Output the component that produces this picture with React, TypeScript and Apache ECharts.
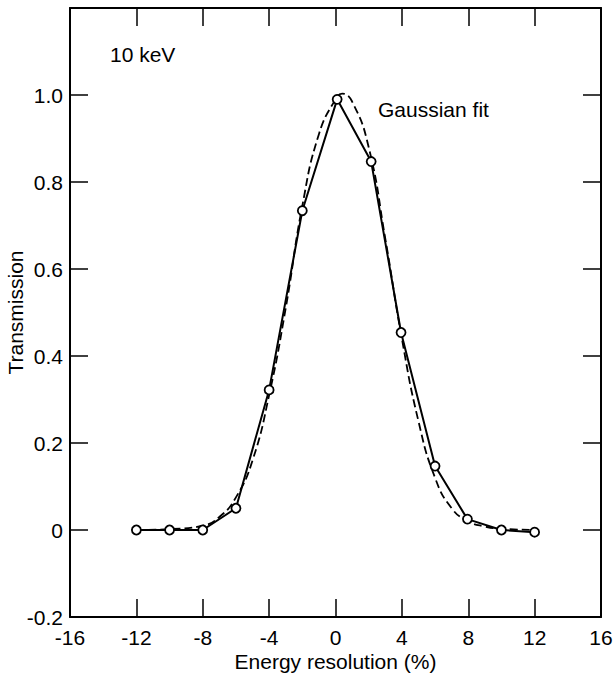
import * as echarts from "echarts";
import React, { useEffect, useRef } from "react";

// measured points (energy resolution %, transmission)
const energy = [-12, -10, -8, -6, -4, -2, 0.1, 2.15, 3.95, 6, 7.95, 10, 12];
const transmission = [0, 0, 0, 0.05, 0.322, 0.734, 0.99, 0.847, 0.454, 0.147, 0.025, 0, -0.005];

// dashed Gaussian fit
const fitEnergy = [-12, -10, -8, -7, -6, -5, -4, -3, -2, -1, 0, 0.4, 1, 2, 3, 4, 5, 6, 7, 8, 9, 10, 12];
const fitValue = [0, 0.002, 0.01, 0.03, 0.075, 0.16, 0.31, 0.51, 0.745, 0.91, 0.99, 1.003, 0.985, 0.88, 0.67, 0.44, 0.25, 0.12, 0.05, 0.02, 0.008, 0.003, 0];

const FONT = "'Liberation Sans', Arial, sans-serif";

const Chart: React.FC = () => {
  const chartRef = useRef<HTMLDivElement | null>(null);

  useEffect(() => {
    document.body.style.margin = "0";
    if (!chartRef.current) return;
    const chart = echarts.init(chartRef.current, undefined, { renderer: "svg" });

    const axisLine = { show: true, onZero: false, lineStyle: { color: "#000", width: 2 } };
    const tick = { show: true, inside: true, length: 18, lineStyle: { color: "#000", width: 1.5 } };
    const label = { color: "#000", fontSize: 21, fontFamily: FONT };

    const option: echarts.EChartsOption = {
      animation: false,
      backgroundColor: "#fff",
      grid: { left: 70, right: 12, top: 8, bottom: 58, outerBoundsMode: "none" } as any,
      xAxis: [
        {
          type: "value",
          min: -16,
          max: 16,
          interval: 4,
          axisLine,
          axisTick: tick,
          splitLine: { show: false },
          axisLabel: { ...label, margin: 10 },
          name: "Energy resolution (%)",
          nameLocation: "middle",
          nameGap: 34,
          nameMoveOverlap: false,
          nameTextStyle: { ...label },
        } as any,
        {
          type: "value",
          position: "top",
          min: -16,
          max: 16,
          interval: 4,
          axisLine,
          axisTick: tick,
          splitLine: { show: false },
          axisLabel: { show: false },
        },
      ],
      yAxis: [
        {
          type: "value",
          min: -0.2,
          max: 1.2,
          interval: 0.2,
          axisLine,
          axisTick: tick,
          splitLine: { show: false },
          axisLabel: {
            ...label,
            margin: 7,
            formatter: (v: number) =>
              Math.abs(v) < 1e-9 ? "0" : v > 1.1 ? "" : v.toFixed(1),
          },
          name: "Transmission",
          nameLocation: "middle",
          nameGap: 44,
          nameMoveOverlap: false,
          nameTextStyle: { ...label },
        } as any,
        {
          type: "value",
          position: "right",
          min: -0.2,
          max: 1.2,
          interval: 0.2,
          axisLine,
          axisTick: tick,
          splitLine: { show: false },
          axisLabel: { show: false },
        },
      ],
      series: [
        {
          name: "Gaussian fit",
          type: "line",
          smooth: true,
          symbol: "none",
          data: fitEnergy.map((x, i) => [x, fitValue[i]]),
          lineStyle: { color: "#000", width: 1.8, type: [8, 4] },
          z: 2,
        },
        {
          name: "Measured",
          type: "line",
          symbol: "circle",
          symbolSize: 9,
          data: energy.map((x, i) => [x, transmission[i]]),
          lineStyle: { color: "#000", width: 2 },
          itemStyle: { color: "#fff", borderColor: "#000", borderWidth: 1.8 },
          z: 3,
        },
      ],
      graphic: [
        {
          type: "text",
          left: 110,
          top: 44,
          style: { text: "10 keV", fontSize: 21, fontFamily: FONT, fill: "#000" },
        },
        {
          type: "text",
          left: 378,
          top: 99,
          style: { text: "Gaussian fit", fontSize: 21, fontFamily: FONT, fill: "#000" },
        },
      ],
    };

    chart.setOption(option);
    return () => {
      chart.dispose();
    };
  }, []);

  return <div ref={chartRef} style={{ width: "613px", height: "675px" }} />;
};

export default function App() {
  return <Chart />;
}
